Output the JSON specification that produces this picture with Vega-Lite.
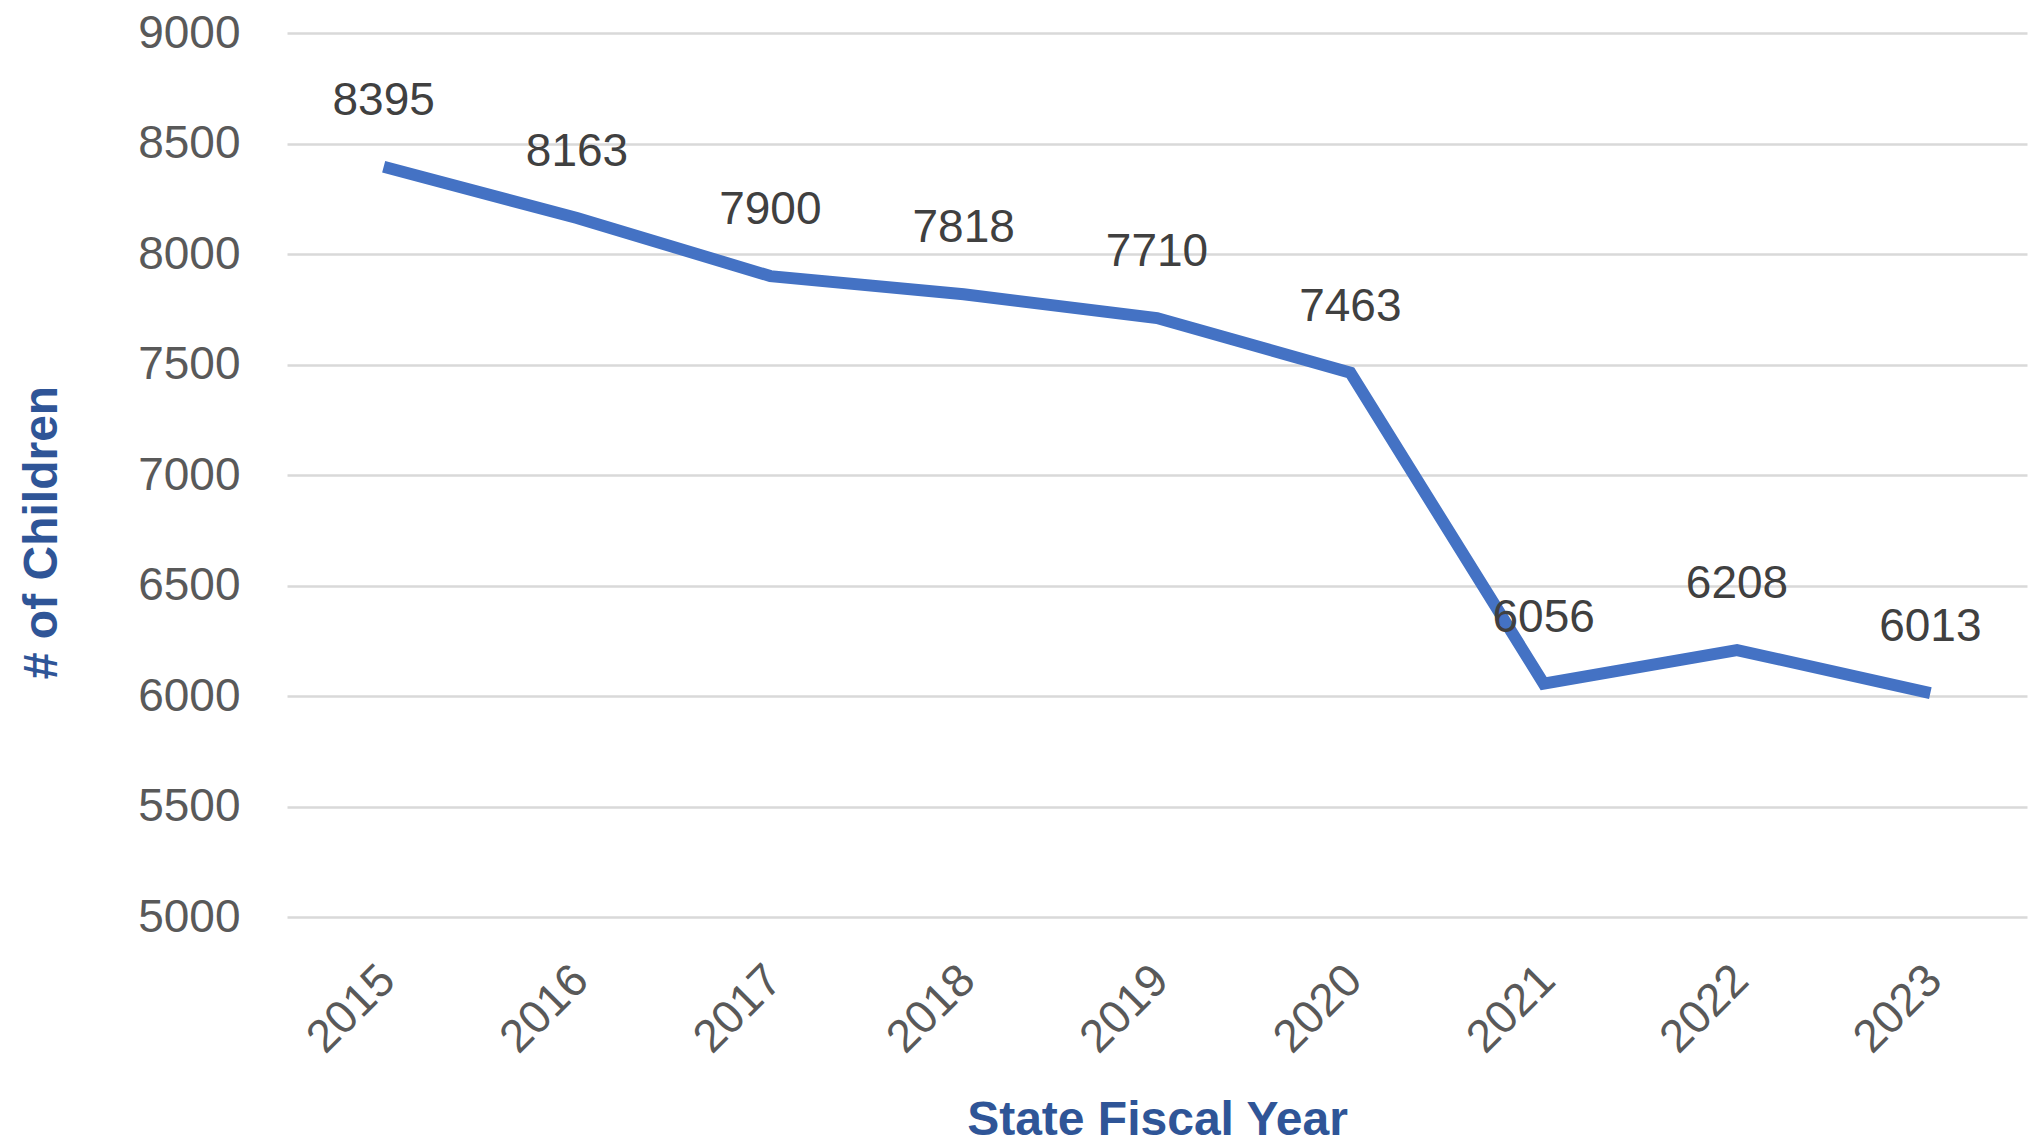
{
  "$schema": "https://vega.github.io/schema/vega-lite/v6.json",
  "width": 1740,
  "height": 884,
  "autosize": "none",
  "padding": {"left": 287, "top": 33, "right": 4, "bottom": 227},
  "background": "white",
  "config": {"view": {"stroke": null}, "font": "Liberation Sans"},
  "data": {
    "values": [
      {"year": "2015", "children": 8395},
      {"year": "2016", "children": 8163},
      {"year": "2017", "children": 7900},
      {"year": "2018", "children": 7818},
      {"year": "2019", "children": 7710},
      {"year": "2020", "children": 7463},
      {"year": "2021", "children": 6056},
      {"year": "2022", "children": 6208},
      {"year": "2023", "children": 6013}
    ]
  },
  "encoding": {
    "x": {
      "field": "year",
      "type": "ordinal",
      "scale": {"type": "point", "padding": 0.5},
      "axis": {
        "title": "State Fiscal Year",
        "titleFont": "Liberation Sans",
        "titleFontSize": 48,
        "titleFontWeight": "bold",
        "titleColor": "#2F5597",
        "titleBaseline": "alphabetic",
        "titleY": 217,
        "labelAngle": -45,
        "labelFontSize": 46,
        "labelColor": "#595959",
        "labelPadding": 40,
        "labelOffset": -12,
        "domain": false,
        "ticks": false,
        "grid": false
      }
    },
    "y": {
      "field": "children",
      "type": "quantitative",
      "scale": {"domain": [5000, 9000], "nice": false, "zero": false},
      "axis": {
        "title": "# of Children",
        "titleFont": "Liberation Sans",
        "titleFontSize": 48,
        "titleFontWeight": "bold",
        "titleColor": "#2F5597",
        "titleBaseline": "alphabetic",
        "titleAngle": -90,
        "titleAlign": "center",
        "titleX": -231,
        "titleY": 499,
        "values": [5000, 5500, 6000, 6500, 7000, 7500, 8000, 8500, 9000],
        "format": "d",
        "labelFontSize": 46,
        "labelColor": "#595959",
        "labelPadding": 47,
        "domain": false,
        "ticks": false,
        "grid": true,
        "gridColor": "#D9D9D9",
        "gridWidth": 2.5
      }
    }
  },
  "layer": [
    {
      "mark": {"type": "line", "color": "#4472C4", "strokeWidth": 12, "strokeJoin": "miter", "strokeCap": "butt"}
    },
    {
      "mark": {"type": "text", "dy": -66, "fontSize": 46, "color": "#404040", "baseline": "middle", "align": "center"},
      "encoding": {"text": {"field": "children", "type": "quantitative", "format": "d"}}
    }
  ]
}
